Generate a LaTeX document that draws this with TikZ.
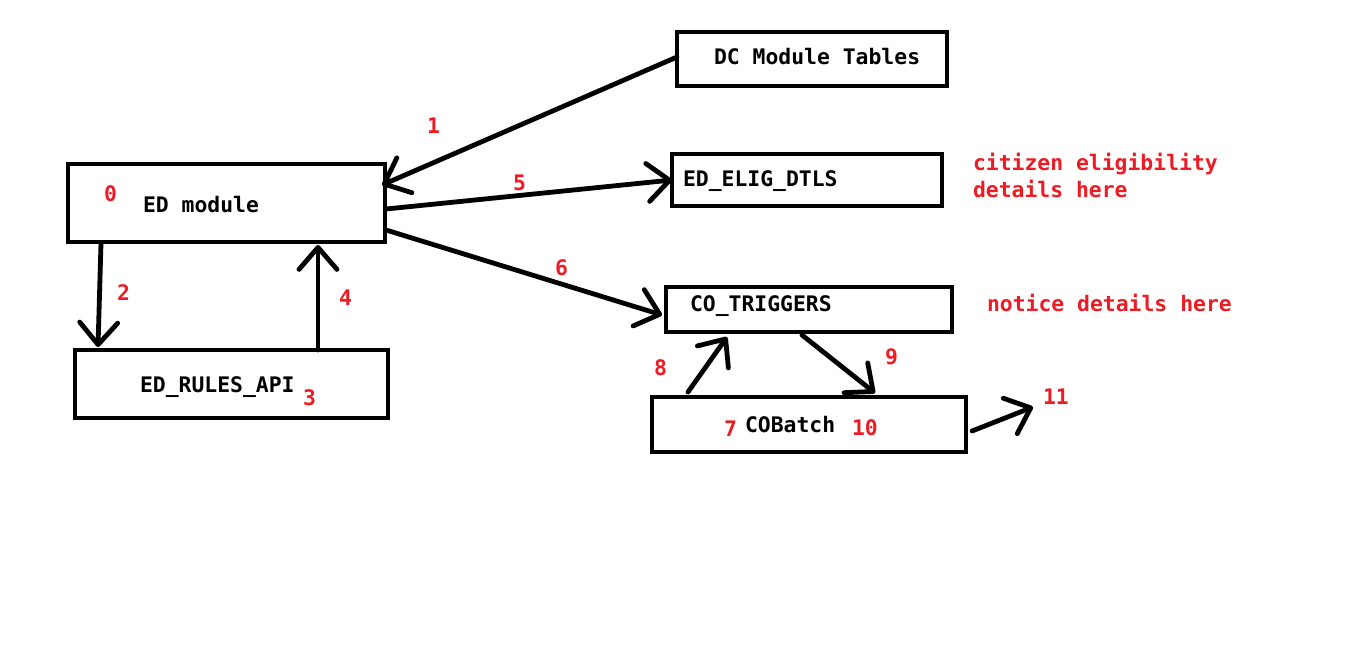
\documentclass[tikz,border=0pt]{standalone}
\usepackage{fontspec}
\setmonofont{DejaVu Sans Mono}
\usetikzlibrary{arrows.meta}
\definecolor{paintred}{RGB}{237,28,36}
\tikzset{
  box/.style={draw=black, line width=4.8pt, inner sep=0pt, outer sep=0pt, fill=none},
  lbl/.style={anchor=base west, inner sep=0pt, outer sep=0pt, font=\ttfamily\bfseries\fontsize{21.4}{25}\selectfont, text=black},
  num/.style={lbl, text=paintred},
  conn/.style={line width=4.8pt, line cap=round, line join=round,
    -{Straight Barb[length=22pt,width=38pt,line cap=round,line join=round]}},
}
\begin{document}
\begin{tikzpicture}[x=1pt,y=-1pt]
\useasboundingbox[fill=white] (0,0) rectangle (1359,654);
% boxes
\node[box, minimum width=317pt, minimum height=78pt] (ed) at (226.5,203) {};
\node[box, minimum width=313pt, minimum height=68pt] (rules) at (231.5,384) {};
\node[box, minimum width=270pt, minimum height=54pt] (dc) at (812,59) {};
\node[box, minimum width=270pt, minimum height=52pt] (elig) at (807,180) {};
\node[box, minimum width=286pt, minimum height=45pt] (trig) at (809,309.5) {};
\node[box, minimum width=314pt, minimum height=55pt] (batch) at (809,424.5) {};
% texts
\node[lbl] (tEd) at (143,212.7) {ED module};
\node[lbl] (tRules) at (140,392.7) {ED\_RULES\_API};
\node[lbl] (tDc) at (714,64) {DC Module Tables};
\node[lbl] (tElig) at (683,186.7) {ED\_ELIG\_DTLS};
\node[lbl] (tTrig) at (690,311.7) {CO\_TRIGGERS};
\node[lbl] (tBatch) at (745,432.7) {COBatch};
\node[num] (nCit1) at (973,170) {citizen eligibility};
\node[num] (nCit2) at (973,197) {details here};
\node[num] (nNot) at (987,311.7) {notice details here};
% numbers
\node[num] (n0) at (104,201.7) {0};
\node[num] (n1) at (427,133) {1};
\node[num] (n2) at (117,300) {2};
\node[num] (n3) at (303,405.7) {3};
\node[num] (n4) at (339,305.7) {4};
\node[num] (n5) at (513,190) {5};
\node[num] (n6) at (555,275) {6};
\node[num] (n7) at (724,436.7) {7};
\node[num] (n8) at (654,375) {8};
\node[num] (n9) at (885,364) {9};
\node[num] (n10) at (852,435) {10};
\node[num] (n11) at (1043,404) {11};
% connectors
\coordinate (out11) at (1033,407);
\draw[conn] ([shift={(0,-2)}]dc.west) -- ([shift={(-3,-18)}]ed.east);
\draw[conn] ([shift={(1,6)}]ed.east) -- (elig.west);
\draw[conn] ([shift={(1,27)}]ed.east) -- ([shift={(-4,5.5)}]trig.west);
\draw[conn] ([shift={(33,1)}]ed.south west) -- ([shift={(23,-3)}]rules.north west);
\draw[conn] ([shift={(243,0)}]rules.north west) -- ([shift={(250,3)}]ed.south west);
\draw[conn] ([shift={(36,-5)}]batch.north west) -- ([shift={(61,5)}]trig.south west);
\draw[conn] ([shift={(136,3)}]trig.south west) -- ([shift={(223,-4)}]batch.north west);
\draw[conn] ([shift={(6,6.5)}]batch.east) -- (out11);
\end{tikzpicture}
\end{document}
